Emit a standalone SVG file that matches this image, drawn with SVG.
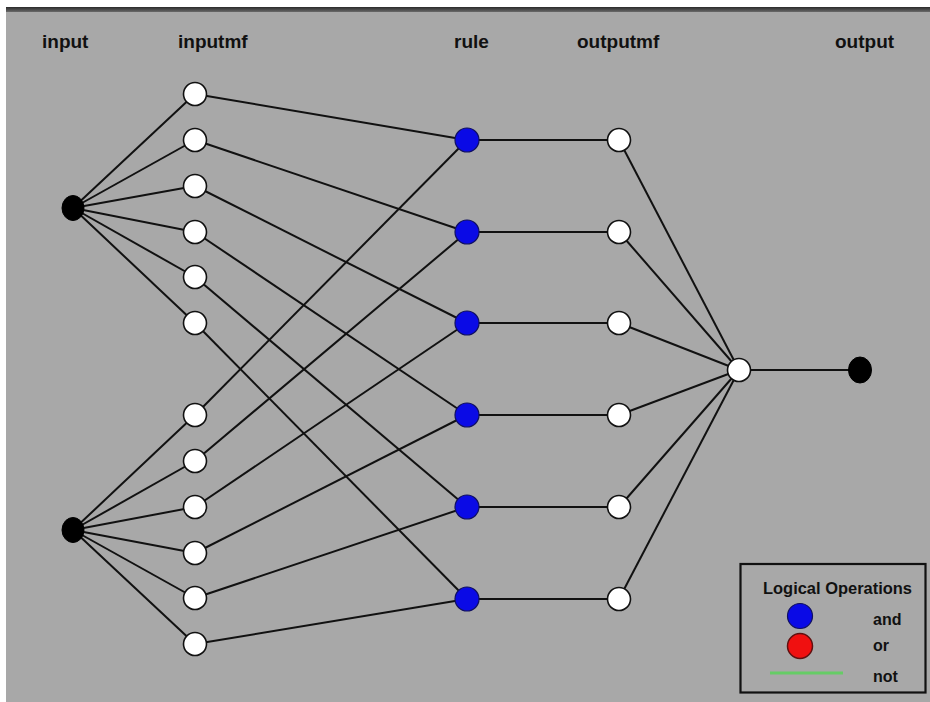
<svg xmlns="http://www.w3.org/2000/svg" width="930" height="702" viewBox="0 0 930 702">
<defs>
<linearGradient id="band" x1="0" y1="0" x2="0" y2="1">
<stop offset="0" stop-color="#2a2a2a"/>
<stop offset="1" stop-color="#6a6a6a"/>
</linearGradient>
</defs>
<style>
.lbl{font-family:"Liberation Sans",Arial,sans-serif;font-weight:bold;font-size:19px;fill:#111;}
.leg{font-family:"Liberation Sans",Arial,sans-serif;font-weight:bold;font-size:16px;fill:#111;}
.e{stroke:#111;stroke-width:2;fill:none;}
.mf{fill:#fff;stroke:#111;stroke-width:1.6;}
.rule{fill:#0a0ae6;stroke:#101060;stroke-width:1.2;}
.blk{fill:#000;stroke:#000;stroke-width:1;}
</style>
<rect x="0" y="0" width="930" height="702" fill="#fff"/>
<rect x="6" y="7" width="924" height="695" fill="#a8a8a8"/>
<rect x="6" y="7" width="924" height="5" fill="url(#band)"/>

<g id="labels">
<text class="lbl" x="42" y="48">input</text>
<text class="lbl" x="178" y="48">inputmf</text>
<text class="lbl" x="454" y="48">rule</text>
<text class="lbl" x="577" y="48">outputmf</text>
<text class="lbl" x="835" y="48">output</text>
</g>

<g id="connectors">
<!-- input1 to mf1-6 -->
<line class="e" x1="73" y1="208" x2="195" y2="94"/>
<line class="e" x1="73" y1="208" x2="195" y2="140"/>
<line class="e" x1="73" y1="208" x2="195" y2="186"/>
<line class="e" x1="73" y1="208" x2="195" y2="232"/>
<line class="e" x1="73" y1="208" x2="195" y2="277"/>
<line class="e" x1="73" y1="208" x2="195" y2="323"/>
<!-- input2 to mf7-12 -->
<line class="e" x1="73" y1="530" x2="195" y2="415"/>
<line class="e" x1="73" y1="530" x2="195" y2="461"/>
<line class="e" x1="73" y1="530" x2="195" y2="507"/>
<line class="e" x1="73" y1="530" x2="195" y2="553"/>
<line class="e" x1="73" y1="530" x2="195" y2="598"/>
<line class="e" x1="73" y1="530" x2="195" y2="644"/>
<!-- mf to rules -->
<line class="e" x1="195" y1="94" x2="467" y2="140"/>
<line class="e" x1="195" y1="140" x2="467" y2="232"/>
<line class="e" x1="195" y1="186" x2="467" y2="323"/>
<line class="e" x1="195" y1="232" x2="467" y2="415"/>
<line class="e" x1="195" y1="277" x2="467" y2="507"/>
<line class="e" x1="195" y1="323" x2="467" y2="599"/>
<line class="e" x1="195" y1="415" x2="467" y2="140"/>
<line class="e" x1="195" y1="461" x2="467" y2="232"/>
<line class="e" x1="195" y1="507" x2="467" y2="323"/>
<line class="e" x1="195" y1="553" x2="467" y2="415"/>
<line class="e" x1="195" y1="598" x2="467" y2="507"/>
<line class="e" x1="195" y1="644" x2="467" y2="599"/>
<!-- rules to outputmf -->
<line class="e" x1="467" y1="140" x2="619" y2="140"/>
<line class="e" x1="467" y1="232" x2="619" y2="232"/>
<line class="e" x1="467" y1="323" x2="619" y2="323"/>
<line class="e" x1="467" y1="415" x2="619" y2="415"/>
<line class="e" x1="467" y1="507" x2="619" y2="507"/>
<line class="e" x1="467" y1="599" x2="619" y2="599"/>
<!-- outputmf to aggregate -->
<line class="e" x1="619" y1="140" x2="739" y2="370"/>
<line class="e" x1="619" y1="232" x2="739" y2="370"/>
<line class="e" x1="619" y1="323" x2="739" y2="370"/>
<line class="e" x1="619" y1="415" x2="739" y2="370"/>
<line class="e" x1="619" y1="507" x2="739" y2="370"/>
<line class="e" x1="619" y1="599" x2="739" y2="370"/>
<line class="e" x1="739" y1="370" x2="860" y2="370" stroke-width="2.5"/>
</g>

<g id="input1"><ellipse class="blk" cx="73" cy="208" rx="11" ry="12.5"/></g>
<g id="input2"><ellipse class="blk" cx="73" cy="530" rx="11" ry="12.5"/></g>

<g id="inputmf1"><circle class="mf" cx="195" cy="94" r="11.5"/></g>
<g id="inputmf2"><circle class="mf" cx="195" cy="140" r="11.5"/></g>
<g id="inputmf3"><circle class="mf" cx="195" cy="186" r="11.5"/></g>
<g id="inputmf4"><circle class="mf" cx="195" cy="232" r="11.5"/></g>
<g id="inputmf5"><circle class="mf" cx="195" cy="277" r="11.5"/></g>
<g id="inputmf6"><circle class="mf" cx="195" cy="323" r="11.5"/></g>
<g id="inputmf7"><circle class="mf" cx="195" cy="415" r="11.5"/></g>
<g id="inputmf8"><circle class="mf" cx="195" cy="461" r="11.5"/></g>
<g id="inputmf9"><circle class="mf" cx="195" cy="507" r="11.5"/></g>
<g id="inputmf10"><circle class="mf" cx="195" cy="553" r="11.5"/></g>
<g id="inputmf11"><circle class="mf" cx="195" cy="598" r="11.5"/></g>
<g id="inputmf12"><circle class="mf" cx="195" cy="644" r="11.5"/></g>

<g id="rule1"><circle class="rule" cx="467" cy="140" r="12"/></g>
<g id="rule2"><circle class="rule" cx="467" cy="232" r="12"/></g>
<g id="rule3"><circle class="rule" cx="467" cy="323" r="12"/></g>
<g id="rule4"><circle class="rule" cx="467" cy="415" r="12"/></g>
<g id="rule5"><circle class="rule" cx="467" cy="507" r="12"/></g>
<g id="rule6"><circle class="rule" cx="467" cy="599" r="12"/></g>

<g id="outputmf1"><circle class="mf" cx="619" cy="140" r="11.5"/></g>
<g id="outputmf2"><circle class="mf" cx="619" cy="232" r="11.5"/></g>
<g id="outputmf3"><circle class="mf" cx="619" cy="323" r="11.5"/></g>
<g id="outputmf4"><circle class="mf" cx="619" cy="415" r="11.5"/></g>
<g id="outputmf5"><circle class="mf" cx="619" cy="507" r="11.5"/></g>
<g id="outputmf6"><circle class="mf" cx="619" cy="599" r="11.5"/></g>

<g id="aggregate"><circle class="mf" cx="739" cy="370" r="11.5"/></g>
<g id="output"><ellipse class="blk" cx="860" cy="370" rx="11.5" ry="13"/></g>

<g id="legend">
<rect x="740.5" y="564" width="185" height="128.5" fill="#a8a8a8" stroke="#111" stroke-width="2.2"/>
<text class="leg" x="763" y="594" textLength="149" lengthAdjust="spacingAndGlyphs">Logical Operations</text>
<circle cx="800" cy="616" r="12.5" fill="#0a0ae6" stroke="#101060" stroke-width="1.2"/>
<text class="leg" x="873" y="625">and</text>
<circle cx="800" cy="646" r="12.5" fill="#f01010" stroke="#601010" stroke-width="1.5"/>
<text class="leg" x="873" y="651">or</text>
<line x1="770" y1="673" x2="843" y2="673" stroke="#66cc66" stroke-width="3"/>
<text class="leg" x="873" y="682">not</text>
</g>
</svg>
